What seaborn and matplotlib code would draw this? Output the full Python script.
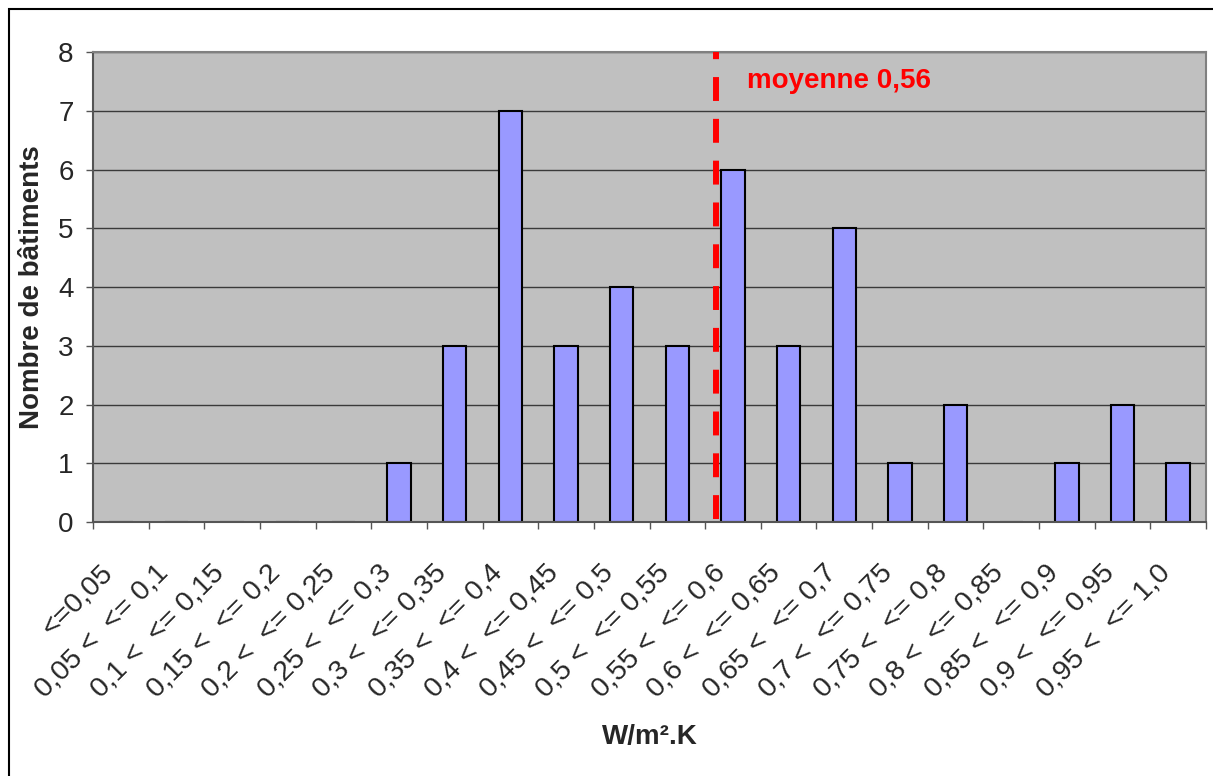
import matplotlib
matplotlib.use("Agg")
import matplotlib.pyplot as plt
from matplotlib.patches import Rectangle
from matplotlib.transforms import ScaledTranslation
import pandas as pd
import seaborn as sns

# Classes of U-value (W/m².K) and number of buildings in each class
classes = [
    "<=0,05",
    "0,05 <  <= 0,1",
    "0,1 <  <= 0,15",
    "0,15 <  <= 0,2",
    "0,2 <  <= 0,25",
    "0,25 <  <= 0,3",
    "0,3 <  <= 0,35",
    "0,35 <  <= 0,4",
    "0,4 <  <= 0,45",
    "0,45 <  <= 0,5",
    "0,5 <  <= 0,55",
    "0,55 <  <= 0,6",
    "0,6 <  <= 0,65",
    "0,65 <  <= 0,7",
    "0,7 <  <= 0,75",
    "0,75 <  <= 0,8",
    "0,8 <  <= 0,85",
    "0,85 <  <= 0,9",
    "0,9 <  <= 0,95",
    "0,95 <  <= 1,0",
]
counts = [0, 0, 0, 0, 0, 1, 3, 7, 3, 4, 3, 6, 3, 5, 1, 2, 0, 1, 2, 1]
y_ticks = [0, 1, 2, 3, 4, 5, 6, 7, 8]

bin_width = 0.05
mean_value = 0.56
mean_label = "moyenne 0,56"

sns.set_theme(style="white")
plt.rcParams["font.family"] = ["Liberation Sans", "DejaVu Sans"]

df = pd.DataFrame({"classe": classes, "n": counts})

W, H, DPI = 1213, 776, 100
fig = plt.figure(figsize=(W / DPI, H / DPI), dpi=DPI)
fig.patch.set_facecolor("white")

# outer chart frame (left and top edges visible)
fig.patches.append(Rectangle((9 / W, -0.1), 1.2, (H - 9) / H + 0.1,
                             transform=fig.transFigure, fill=False,
                             edgecolor="black", linewidth=1.5))

ax = fig.add_axes([93 / W, 1 - 522 / H, (1206 - 93) / W, (522 - 52) / H])
ax.set_facecolor("#C0C0C0")

sns.barplot(data=df, x="classe", y="n", order=classes, color="#9999FF",
            saturation=1, edgecolor="black", linewidth=1.5, width=0.42, ax=ax)

ax.set_xlim(-0.5, len(classes) - 0.5)
ax.set_ylim(0, 8)
ax.set_yticks(y_ticks)
ax.set_yticklabels([str(t) for t in y_ticks], fontsize=20)
ax.yaxis.grid(True, color="#3a3a3a", linewidth=1.0)
ax.set_axisbelow(True)

# category labels at centres, tick marks at class boundaries
ax.set_xticks(range(len(classes)))
ax.set_xticks([i - 0.5 for i in range(len(classes) + 1)], minor=True)
ax.tick_params(axis="x", which="major", length=0, pad=34)
ax.tick_params(axis="x", which="minor", direction="out", length=5,
               width=1, color="#555555", bottom=True)
ax.tick_params(axis="y", direction="out", length=5, width=1,
               color="#555555", left=True, pad=9)
ax.set_xticklabels(classes, fontsize=20.5, rotation=45, ha="right",
                   va="center", rotation_mode="anchor")
shift = ScaledTranslation(-0.12, 0, fig.dpi_scale_trans)
for lab in ax.get_xticklabels():
    lab.set_transform(lab.get_transform() + shift)

for side in ["top", "right"]:
    ax.spines[side].set_color("#808080")
    ax.spines[side].set_linewidth(1.5)
for side in ["left", "bottom"]:
    ax.spines[side].set_color("#555555")
    ax.spines[side].set_linewidth(1.5)

# mean marker: dashed red vertical line at the mean value
mean_pos = mean_value / bin_width - 0.5
ax.axvline(mean_pos, color="#FF0000", linewidth=4.3,
           linestyle=(6.5, (4, 3)), zorder=5)
ax.text(11.25, 7.39, mean_label, color="#FF0000", fontsize=20,
        fontweight="bold", ha="left", va="baseline", zorder=6)

ax.set_xlabel("W/m².K", fontsize=20, fontweight="bold", va="center")
ax.xaxis.set_label_coords(0.5, (522 - 737) / 470)
ax.set_ylabel("Nombre de bâtiments", fontsize=20, fontweight="bold",
              va="center")
ax.yaxis.set_label_coords((32 - 93) / 1113, 0.5)

fig.savefig("out.png", dpi=DPI)
